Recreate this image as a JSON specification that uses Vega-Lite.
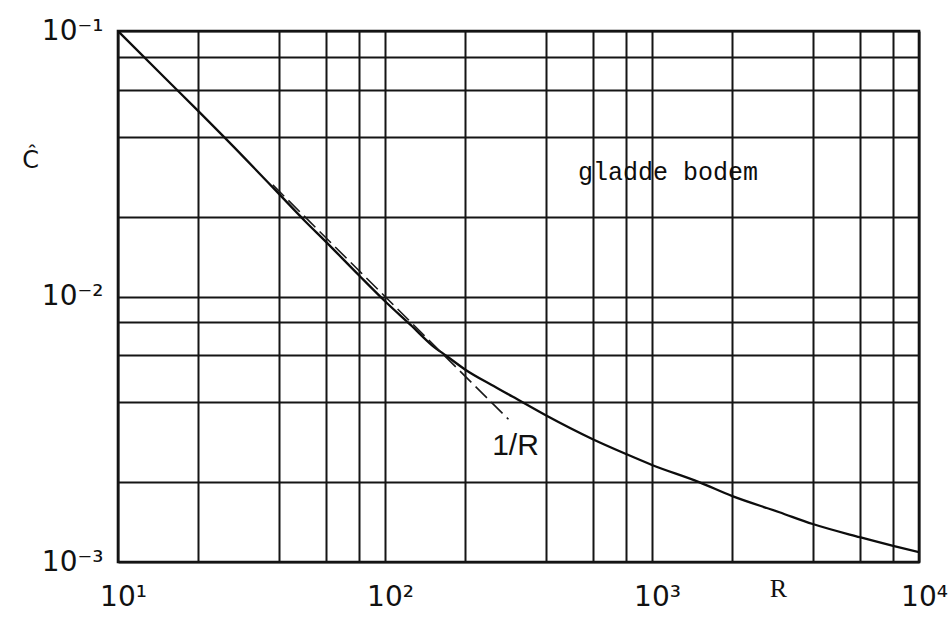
{
  "$schema": "https://vega.github.io/schema/vega-lite/v6.json",
  "width": 801,
  "height": 531,
  "autosize": {"type": "none"},
  "padding": {"left": 118, "top": 31, "right": 32, "bottom": 62},
  "background": "white",
  "config": {
    "view": {"stroke": "#111111", "strokeWidth": 2.6},
    "axis": {
      "grid": true,
      "gridColor": "#151515",
      "gridWidth": 2,
      "gridOpacity": 1,
      "ticks": false,
      "domain": false,
      "labelFont": "DejaVu Sans",
      "labelFontSize": 28,
      "labelColor": "#111111",
      "labelOverlap": false,
      "labelFlush": false,
      "labelBound": false,
      "titleColor": "#111111",
      "titleFontWeight": "normal"
    }
  },
  "datasets": {
    "curve": [
      {"R": 10, "C": 0.1},
      {"R": 15, "C": 0.0665},
      {"R": 20, "C": 0.0499},
      {"R": 30, "C": 0.0330},
      {"R": 40, "C": 0.0244},
      {"R": 50, "C": 0.0193},
      {"R": 60, "C": 0.0161},
      {"R": 80, "C": 0.0120},
      {"R": 100, "C": 0.0096},
      {"R": 125, "C": 0.0078},
      {"R": 150, "C": 0.00655},
      {"R": 170, "C": 0.00597},
      {"R": 200, "C": 0.0053},
      {"R": 250, "C": 0.00465},
      {"R": 300, "C": 0.0042},
      {"R": 400, "C": 0.00357},
      {"R": 600, "C": 0.0029},
      {"R": 800, "C": 0.00255},
      {"R": 1000, "C": 0.00232},
      {"R": 1500, "C": 0.002},
      {"R": 2000, "C": 0.00177},
      {"R": 3000, "C": 0.00154},
      {"R": 4000, "C": 0.00139},
      {"R": 6000, "C": 0.00124},
      {"R": 8000, "C": 0.00115},
      {"R": 10000, "C": 0.00109}
    ],
    "inverse": [
      {"R": 38, "C": 0.02632},
      {"R": 290, "C": 0.003448}
    ],
    "notes": [
      {"R": 528, "C": 0.0294, "text": "gladde bodem", "kind": "mono"},
      {"R": 252, "C": 0.00274, "text": "1/R", "kind": "sans"}
    ]
  },
  "encoding": {
    "x": {
      "field": "R",
      "type": "quantitative",
      "scale": {"type": "log", "domain": [10, 10000], "nice": false},
      "axis": {
        "values": [10, 20, 40, 60, 80, 100, 200, 400, 600, 800, 1000, 2000, 4000, 6000, 8000, 10000],
        "labelExpr": "datum.value == 10 ? '10¹' : datum.value == 100 ? '10²' : datum.value == 1000 ? '10³' : datum.value == 10000 ? '10⁴' : ''",
        "labelPadding": 21,
        "labelOffset": 5,
        "title": "R",
        "titleFont": "Liberation Serif",
        "titleFontSize": 26,
        "titleX": 660,
        "titleY": 26,
        "titleAlign": "center",
        "titleBaseline": "middle"
      }
    },
    "y": {
      "field": "C",
      "type": "quantitative",
      "scale": {"type": "log", "domain": [0.001, 0.1], "nice": false},
      "axis": {
        "values": [0.001, 0.002, 0.004, 0.006, 0.008, 0.01, 0.02, 0.04, 0.06, 0.08, 0.1],
        "labelExpr": "datum.value == 0.1 ? '10⁻¹' : datum.value == 0.01 ? '10⁻²' : datum.value == 0.001 ? '10⁻³' : ''",
        "labelPadding": 15,
        "labelBaseline": "middle",
        "title": "Ĉ",
        "titleFont": "DejaVu Sans",
        "titleFontSize": 24,
        "titleAngle": 0,
        "titleX": -88,
        "titleY": 129,
        "titleAlign": "center",
        "titleBaseline": "middle"
      }
    }
  },
  "layer": [
    {
      "data": {"name": "curve"},
      "mark": {"type": "line", "color": "#0d0d0d", "strokeWidth": 2.3, "interpolate": "monotone", "clip": true}
    },
    {
      "data": {"name": "inverse"},
      "mark": {"type": "line", "color": "#1a1a1a", "strokeWidth": 1.6, "strokeDash": [16, 6]}
    },
    {
      "data": {"name": "notes"},
      "transform": [{"filter": "datum.kind == 'mono'"}],
      "mark": {"type": "text", "align": "left", "baseline": "middle", "font": "Liberation Mono", "fontSize": 25, "color": "#0d0d0d"},
      "encoding": {"text": {"field": "text"}}
    },
    {
      "data": {"name": "notes"},
      "transform": [{"filter": "datum.kind == 'sans'"}],
      "mark": {"type": "text", "align": "left", "baseline": "middle", "font": "Liberation Sans", "fontSize": 30, "color": "#111111"},
      "encoding": {"text": {"field": "text"}}
    }
  ]
}
